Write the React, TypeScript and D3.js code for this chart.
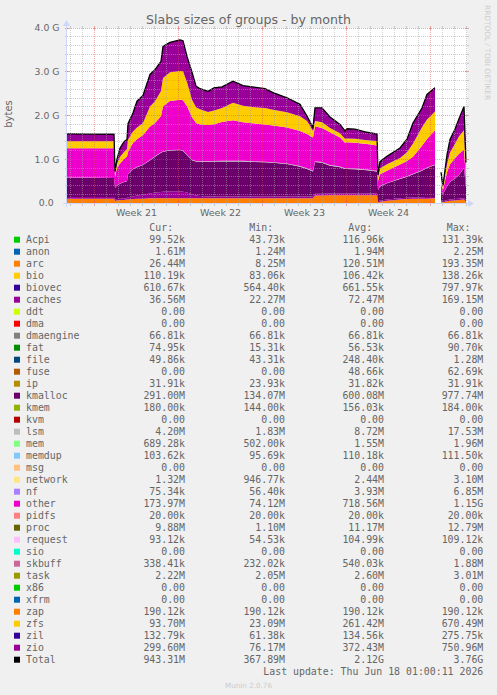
import { useEffect, useRef } from 'react';
import * as d3 from 'd3';

// Sample times (UTC). Two null rows mark the collection gap on Jun 15.
const times = [
  '2026-05-15T17:00Z', '2026-05-17T15:00Z', '2026-05-19T15:00Z', '2026-05-19T17:00Z',
  '2026-05-19T21:00Z', '2026-05-20T03:00Z', '2026-05-20T11:00Z', '2026-05-20T17:00Z',
  '2026-05-20T19:00Z', '2026-05-21T05:00Z', '2026-05-21T13:00Z', '2026-05-22T01:00Z',
  '2026-05-22T15:00Z', '2026-05-23T01:00Z', '2026-05-23T13:00Z', '2026-05-23T17:00Z',
  '2026-05-24T07:00Z', '2026-05-25T03:00Z', '2026-05-25T09:00Z', '2026-05-25T17:00Z',
  '2026-05-26T03:00Z', '2026-05-26T11:00Z', '2026-05-26T19:00Z', '2026-05-27T11:00Z',
  '2026-05-27T23:00Z', '2026-05-28T15:00Z', '2026-05-29T13:00Z', '2026-05-30T09:00Z',
  '2026-05-31T03:00Z', '2026-06-01T05:00Z', '2026-06-01T21:00Z', '2026-06-03T01:00Z',
  '2026-06-04T03:00Z', '2026-06-04T17:00Z', '2026-06-05T05:00Z', '2026-06-05T09:00Z',
  '2026-06-05T23:00Z', '2026-06-06T15:00Z', '2026-06-07T11:00Z', '2026-06-07T21:00Z',
  '2026-06-08T01:00Z', '2026-06-08T17:00Z', '2026-06-09T17:00Z', '2026-06-10T13:00Z',
  '2026-06-10T15:00Z', '2026-06-10T19:00Z', '2026-06-11T09:00Z', '2026-06-12T11:00Z',
  '2026-06-13T01:00Z', '2026-06-13T13:00Z', '2026-06-14T07:00Z', '2026-06-14T17:00Z',
  '2026-06-15T09:00Z', '2026-06-15T11:00Z', '2026-06-15T19:00Z', '2026-06-15T21:00Z',
  '2026-06-16T01:00Z', '2026-06-16T09:00Z', '2026-06-16T15:00Z', '2026-06-17T01:00Z',
  '2026-06-17T09:00Z', '2026-06-17T19:00Z', '2026-06-17T23:00Z',
];

// Stacked series, in MB
const arc = [
  100, 100, 100, 50, 60, 70, 70, 80, 80, 90, 100, 100, 110, 110, 110, 110,
  110, 110, 110, 110, 110, 110, 110, 110, 110, 110, 110, 110, 110, 110, 110, 110,
  110, 110, 110, 170, 170, 180, 180, 180, 180, 180, 180, 180, 10, 30, 50, 80,
  90, 100, 100, 100, 110, null, null, 40, 20, 40, 50, 60, 70, 80, 26.44,
];
const caches = [
  40, 40, 40, 30, 30, 30, 40, 30, 50, 60, 70, 90, 110, 130, 140, 150,
  160, 160, 150, 130, 90, 60, 50, 40, 40, 40, 40, 40, 40, 40, 40, 40,
  40, 40, 40, 40, 40, 40, 40, 40, 40, 40, 40, 40, 30, 30, 30, 30,
  30, 30, 30, 40, 30, null, null, 20, 20, 30, 30, 30, 30, 30, 36.56,
];
const kmalloc = [
  440, 440, 430, 270, 310, 340, 370, 390, 530, 620, 650, 680, 760, 820, 900, 910,
  930, 940, 930, 860, 780, 780, 780, 790, 800, 800, 800, 800, 790, 780, 770, 740,
  680, 630, 570, 730, 710, 630, 600, 560, 560, 550, 530, 500, 260, 320, 370, 440,
  480, 530, 610, 660, 730, null, null, 190, 160, 310, 400, 470, 540, 690, 291,
];
const lsm = [
  2, 2, 2, 2, 3, 3, 3, 3, 3, 6, 7, 7, 8, 8, 9, 9,
  10, 10, 10, 10, 11, 11, 12, 12, 12, 13, 13, 13, 14, 14, 14, 15,
  15, 15, 15, 16, 16, 17, 17, 17, 17, 17, 17, 17, 5, 6, 7, 8,
  9, 10, 10, 11, 12, null, null, 3, 2, 3, 3, 4, 4, 4, 4.2,
];
const other = [
  670, 670, 680, 250, 400, 460, 520, 560, 510, 600, 630, 680, 760, 760, 830, 1030,
  1120, 1140, 1150, 1100, 970, 870, 840, 830, 840, 890, 930, 880, 870, 850, 840, 820,
  800, 780, 760, 800, 780, 750, 660, 580, 590, 590, 580, 580, 200, 270, 280, 320,
  350, 390, 560, 650, 780, null, null, 170, 100, 320, 400, 460, 480, 420, 173.97,
];
const zfs = [
  160, 160, 160, 60, 100, 150, 160, 170, 270, 260, 270, 270, 460, 500, 570, 650,
  660, 660, 660, 550, 400, 360, 350, 300, 310, 320, 400, 380, 370, 380, 360, 350,
  340, 300, 150, 120, 130, 100, 100, 90, 90, 90, 90, 100, 80, 130, 150, 150,
  200, 300, 420, 450, 430, null, null, 130, 60, 180, 270, 330, 400, 440, 93.7,
];
const zio = [
  170, 160, 160, 60, 100, 200, 240, 220, 370, 420, 600, 630, 730, 720, 680, 720,
  680, 710, 700, 590, 630, 480, 470, 470, 520, 480, 490, 460, 460, 440, 390, 330,
  270, 110, 80, 300, 330, 250, 200, 180, 220, 220, 180, 160, 60, 160, 180, 230,
  300, 470, 440, 570, 540, null, null, 150, 40, 220, 300, 330, 400, 540, 299.6,
];

const rangeStart = '2026-05-15T17:00Z';
const rangeEnd = '2026-06-18T01:00Z';

const yTicks = [0, 1000, 2000, 3000, 4000];
const yTickLabels = ['0.0  ', '1.0 G', '2.0 G', '3.0 G', '4.0 G'];

// Legend table
const legendNames = [
  'Acpi', 'anon', 'arc', 'bio', 'biovec', 'caches', 'ddt', 'dma', 'dmaengine', 'fat',
  'file', 'fuse', 'ip', 'kmalloc', 'kmem', 'kvm', 'lsm', 'mem', 'memdup', 'msg',
  'network', 'nf', 'other', 'pidfs', 'proc', 'request', 'sio', 'skbuff', 'task', 'x86',
  'xfrm', 'zap', 'zfs', 'zil', 'zio', 'Total',
];
const legendColors = [
  '#00CC00', '#0066B3', '#FF8000', '#FFCC00', '#330099', '#990099', '#CCFF00', '#FF0000',
  '#808080', '#008F00', '#00487D', '#B35A00', '#B38F00', '#6B006B', '#8FB300', '#B30000',
  '#BEBEBE', '#80FF80', '#80C9FF', '#FFC080', '#FFE680', '#AA80FF', '#EE00CC', '#FF8080',
  '#666600', '#FFBFFF', '#00FFCC', '#CC6699', '#999900', '#00CC00', '#0066B3', '#FF8000',
  '#FFCC00', '#330099', '#990099', '#000000',
];
const legendCur = [
  '99.52k', '1.61M', '26.44M', '110.19k', '610.67k', '36.56M', '0.00', '0.00', '66.81k', '74.95k',
  '49.86k', '0.00', '31.91k', '291.00M', '180.00k', '0.00', '4.20M', '689.28k', '103.62k', '0.00',
  '1.32M', '75.34k', '173.97M', '20.00k', '9.88M', '93.12k', '0.00', '338.41k', '2.22M', '0.00',
  '0.00', '190.12k', '93.70M', '132.79k', '299.60M', '943.31M',
];
const legendMin = [
  '43.73k', '1.24M', '8.25M', '83.06k', '564.40k', '22.27M', '0.00', '0.00', '66.81k', '15.31k',
  '43.31k', '0.00', '23.93k', '134.07M', '144.00k', '0.00', '1.83M', '502.00k', '95.69k', '0.00',
  '946.77k', '56.40k', '74.12M', '20.00k', '1.10M', '54.53k', '0.00', '232.02k', '2.05M', '0.00',
  '0.00', '190.12k', '23.09M', '61.38k', '76.17M', '367.89M',
];
const legendAvg = [
  '116.96k', '1.94M', '120.51M', '106.42k', '661.55k', '72.47M', '0.00', '0.00', '66.81k', '56.53k',
  '248.40k', '48.66k', '31.82k', '600.08M', '156.03k', '0.00', '8.72M', '1.55M', '110.18k', '0.00',
  '2.44M', '3.93M', '718.56M', '20.00k', '11.17M', '104.99k', '0.00', '540.03k', '2.60M', '0.00',
  '0.00', '190.12k', '261.42M', '134.56k', '372.43M', '2.12G',
];
const legendMax = [
  '131.39k', '2.25M', '193.35M', '138.26k', '797.97k', '169.15M', '0.00', '0.00', '66.81k', '90.70k',
  '1.28M', '62.69k', '31.91k', '977.74M', '184.00k', '0.00', '17.53M', '1.96M', '111.50k', '0.00',
  '3.10M', '6.85M', '1.15G', '20.00k', '12.79M', '109.12k', '0.00', '1.88M', '3.01M', '0.00',
  '0.00', '190.12k', '670.49M', '275.75k', '750.96M', '3.76G',
];

const stackSeries = [
  { key: 'arc', values: arc, color: '#FF8000' },
  { key: 'caches', values: caches, color: '#990099' },
  { key: 'kmalloc', values: kmalloc, color: '#6B006B' },
  { key: 'lsm', values: lsm, color: '#BEBEBE' },
  { key: 'other', values: other, color: '#EE00CC' },
  { key: 'zfs', values: zfs, color: '#FFCC00' },
  { key: 'zio', values: zio, color: '#990099' },
];

const SANS = '"DejaVu Sans", sans-serif';
const MONO = '"DejaVu Sans Mono", monospace';
const FONT_COL = '#666666';
const AXIS_COL = '#CFD6F8';
const GRID_COL = 'rgba(165,165,165,0.55)';
const MGRID_COL = 'rgba(222,79,79,0.5)';

// snap a coordinate to the middle of a pixel so 1px dotted lines stay crisp
const px = (v: number) => Math.floor(v) + 0.5;

export default function App() {
  const svgRef = useRef<SVGSVGElement>(null);

  useEffect(() => {
    if (!svgRef.current) return;

    const width = 497;
    const height = 695;
    const left = 67;
    const right = 467;
    const top = 28;
    const bottom = 203;

    const svg = d3.select(svgRef.current);
    svg.selectAll('*').remove();
    svg.attr('width', width).attr('height', height);

    svg.append('rect').attr('width', width).attr('height', height).attr('fill', '#F0F0F0');
    svg.append('rect')
      .attr('x', left).attr('y', top)
      .attr('width', right - left).attr('height', bottom - top)
      .attr('fill', '#FFFFFF');

    // Scales
    const x = d3.scaleUtc()
      .domain([new Date(rangeStart), new Date(rangeEnd)])
      .range([left, right]);
    const y = d3.scaleLinear().domain([0, 4000]).range([bottom, top]);

    const keys = stackSeries.map((s) => s.key);
    const rows = times.map((t, i) => {
      const row: any = { t: new Date(t), valid: zio[i] !== null, total: 0 };
      stackSeries.forEach((s) => {
        row[s.key] = s.values[i] ?? 0;
        row.total += row[s.key];
      });
      return row;
    });

    const stacked = d3.stack<any>().keys(keys).value((d, k) => d[k])(rows);

    const area = d3.area<any>()
      .defined((d) => d.data.valid)
      .x((d) => x(d.data.t))
      .y0((d) => y(d[0]))
      .y1((d) => y(d[1]));

    const plot = svg.append('g');
    plot.selectAll('path.layer')
      .data(stacked)
      .enter()
      .append('path')
      .attr('class', 'layer')
      .attr('d', (d) => area(d) || '')
      .attr('fill', (d, i) => stackSeries[i].color);

    // Total line on top of the stack
    const totalLine = d3.line<any>()
      .defined((d) => d.valid)
      .x((d) => x(d.t))
      .y((d) => y(d.total));
    plot.append('path')
      .attr('d', totalLine(rows) || '')
      .attr('fill', 'none')
      .attr('stroke', '#000000')
      .attr('stroke-width', 1.3);

    // Grid drawn over the data
    const grid = svg.append('g').attr('shape-rendering', 'crispEdges');
    const minorY = d3.range(200, 4000, 200).filter((v) => v % 1000 !== 0);
    minorY.forEach((v) => {
      const yy = px(y(v));
      grid.append('line')
        .attr('x1', left).attr('x2', right).attr('y1', yy).attr('y2', yy)
        .attr('stroke', GRID_COL).attr('stroke-dasharray', '1,1');
      grid.append('line')
        .attr('x1', left - 2).attr('x2', left).attr('y1', yy).attr('y2', yy)
        .attr('stroke', GRID_COL);
      grid.append('line')
        .attr('x1', right).attr('x2', right + 2).attr('y1', yy).attr('y2', yy)
        .attr('stroke', GRID_COL);
    });

    const days = d3.utcDay.range(x.domain()[0], x.domain()[1]).filter((d) => d.getUTCDay() !== 1);
    days.forEach((d) => {
      const xx = px(x(d));
      grid.append('line')
        .attr('x1', xx).attr('x2', xx).attr('y1', top).attr('y2', bottom)
        .attr('stroke', GRID_COL).attr('stroke-dasharray', '1,1');
      grid.append('line')
        .attr('x1', xx).attr('x2', xx).attr('y1', bottom).attr('y2', bottom + 3)
        .attr('stroke', GRID_COL);
      grid.append('line')
        .attr('x1', xx).attr('x2', xx).attr('y1', top - 2).attr('y2', top)
        .attr('stroke', GRID_COL);
    });

    yTicks.slice(1).forEach((v) => {
      const yy = px(y(v));
      grid.append('line')
        .attr('x1', left).attr('x2', right).attr('y1', yy).attr('y2', yy)
        .attr('stroke', MGRID_COL).attr('stroke-dasharray', '1,1');
      grid.append('line')
        .attr('x1', left - 2).attr('x2', left + 2).attr('y1', yy).attr('y2', yy)
        .attr('stroke', MGRID_COL);
      grid.append('line')
        .attr('x1', right - 2).attr('x2', right + 2).attr('y1', yy).attr('y2', yy)
        .attr('stroke', MGRID_COL);
    });

    const weeks = d3.utcMonday.range(x.domain()[0], x.domain()[1]);
    weeks.forEach((d) => {
      const xx = px(x(d));
      grid.append('line')
        .attr('x1', xx).attr('x2', xx).attr('y1', top).attr('y2', bottom)
        .attr('stroke', MGRID_COL).attr('stroke-dasharray', '1,1');
      grid.append('line')
        .attr('x1', xx).attr('x2', xx).attr('y1', bottom - 2).attr('y2', bottom + 3)
        .attr('stroke', MGRID_COL);
      grid.append('line')
        .attr('x1', xx).attr('x2', xx).attr('y1', top - 2).attr('y2', top + 2)
        .attr('stroke', MGRID_COL);
    });

    // Axes with arrows
    svg.append('line')
      .attr('x1', left - 4).attr('x2', right + 2).attr('y1', bottom + 0.5).attr('y2', bottom + 0.5)
      .attr('stroke', AXIS_COL).attr('stroke-width', 1);
    svg.append('path')
      .attr('d', `M${right + 1},${bottom - 3}L${right + 1},${bottom + 4}L${right + 7},${bottom + 0.5}Z`)
      .attr('fill', AXIS_COL);
    svg.append('line')
      .attr('x1', left - 0.5).attr('x2', left - 0.5).attr('y1', bottom + 4).attr('y2', top - 3)
      .attr('stroke', AXIS_COL).attr('stroke-width', 1);
    svg.append('path')
      .attr('d', `M${left - 4},${top - 2}L${left + 3},${top - 2}L${left - 0.5},${top - 8}Z`)
      .attr('fill', AXIS_COL);

    // Y tick labels
    svg.append('g')
      .selectAll('text')
      .data(yTicks)
      .enter()
      .append('text')
      .attr('x', 59.5)
      .attr('y', (d) => y(d) + 3.3)
      .attr('text-anchor', 'end')
      .style('white-space', 'pre')
      .attr('font-family', SANS)
      .attr('font-size', '9.3px')
      .attr('fill', FONT_COL)
      .text((d, i) => yTickLabels[i]);

    // Week labels, centred in each week
    const weekFmt = d3.utcFormat('Week %V');
    weeks.forEach((d) => {
      const mid = d3.utcHour.offset(d, 84);
      if (x(mid) > right) return;
      svg.append('text')
        .attr('x', x(mid))
        .attr('y', 215.7)
        .attr('text-anchor', 'middle')
        .attr('font-family', SANS)
        .attr('font-size', '9.5px')
        .attr('fill', FONT_COL)
        .text(weekFmt(d));
    });

    // Title, unit label, watermark
    svg.append('text')
      .attr('x', 248.5).attr('y', 24)
      .attr('text-anchor', 'middle')
      .attr('font-family', SANS).attr('font-size', '12.6px')
      .attr('fill', FONT_COL)
      .text('Slabs sizes of groups - by month');

    svg.append('text')
      .attr('transform', 'translate(12,114) rotate(-90)')
      .attr('text-anchor', 'middle')
      .attr('font-family', SANS).attr('font-size', '10px')
      .attr('fill', FONT_COL)
      .text('bytes');

    svg.append('text')
      .attr('transform', 'translate(485,5) rotate(90)')
      .attr('font-family', SANS).attr('font-size', '7.4px')
      .attr('fill', '#CCCCCC')
      .text('RRDTOOL / TOBI OETIKER');

    // Legend
    const legend = svg.append('g')
      .attr('font-family', MONO)
      .attr('font-size', '9.9px')
      .attr('fill', FONT_COL);

    const headers = [
      { label: 'Cur:', x: 149.3 },
      { label: 'Min:', x: 249.3 },
      { label: 'Avg:', x: 348.3 },
      { label: 'Max:', x: 446.7 },
    ];
    headers.forEach((h) => {
      legend.append('text').attr('x', h.x).attr('y', 231.3).text(h.label);
    });

    const rowY = (i: number) => 243.3 + i * 12;
    const columns = [
      { values: legendCur, x: 185 },
      { values: legendMin, x: 285 },
      { values: legendAvg, x: 384 },
      { values: legendMax, x: 483.3 },
    ];
    legendNames.forEach((name, i) => {
      legend.append('rect')
        .attr('x', 14).attr('y', rowY(i) - 6.6)
        .attr('width', 6).attr('height', 6)
        .attr('fill', legendColors[i]);
      legend.append('text').attr('x', 26).attr('y', rowY(i)).text(name);
      columns.forEach((c) => {
        legend.append('text')
          .attr('x', c.x).attr('y', rowY(i))
          .attr('text-anchor', 'end')
          .text(c.values[i]);
      });
    });

    legend.append('text')
      .attr('x', 483.3).attr('y', rowY(legendNames.length))
      .attr('text-anchor', 'end')
      .text('Last update: Thu Jun 18 01:00:11 2026');

    svg.append('text')
      .attr('x', 248.5).attr('y', 687.5)
      .attr('text-anchor', 'middle')
      .attr('font-family', SANS).attr('font-size', '7.2px')
      .attr('fill', '#CCCCCC')
      .text('Munin 2.0.76');
  }, []);

  return (
    <svg ref={svgRef} style={{ position: 'absolute', left: 0, top: 0, display: 'block' }} />
  );
}
